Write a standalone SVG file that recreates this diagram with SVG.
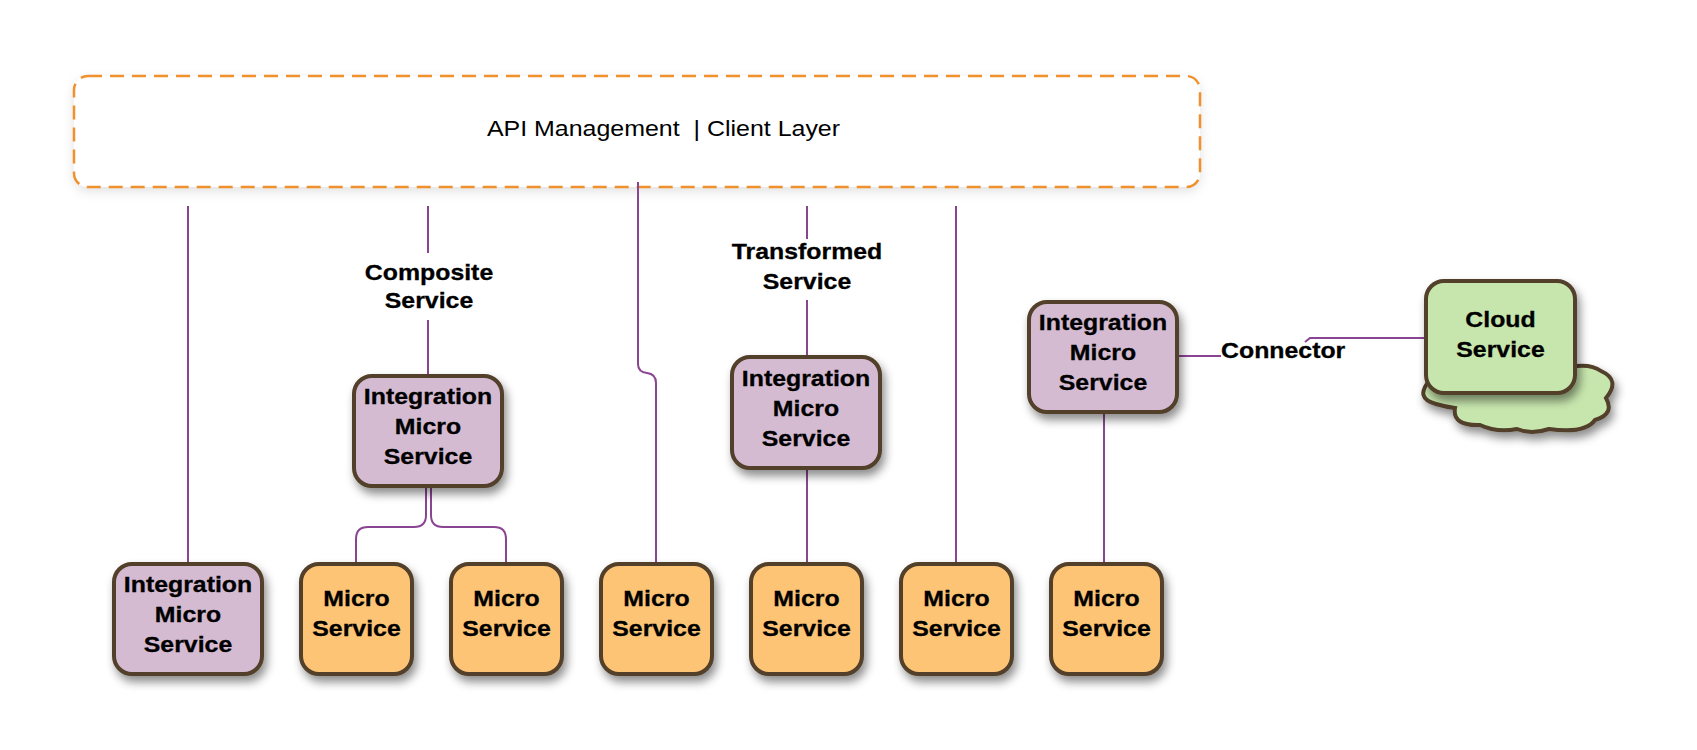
<svg xmlns="http://www.w3.org/2000/svg" width="1697" height="750" viewBox="0 0 1697 750">
<defs>
<style>
.int{fill:#d4bbd2;stroke:#523f2a;stroke-width:4}
.mic{fill:#fec474;stroke:#523f2a;stroke-width:4}
.cld{fill:#c7e6ad;stroke:#523f2a;stroke-width:4}
.lbl{font-family:"Liberation Sans",Arial,sans-serif;font-weight:bold;font-size:22px;fill:#000;stroke:#000;stroke-width:0.3;text-anchor:middle}
.con{fill:none;stroke:#8a4592;stroke-width:2}
</style>
<filter id="sh" x="-20%" y="-20%" width="150%" height="150%">
<feDropShadow dx="3" dy="6" stdDeviation="5" flood-color="#000" flood-opacity="0.45"/>
</filter>
<filter id="glow" x="-5%" y="-20%" width="110%" height="150%">
<feDropShadow dx="0" dy="4" stdDeviation="6" flood-color="#000" flood-opacity="0.12"/>
</filter>
</defs>
<rect width="1697" height="750" fill="#fff"/>

<g id="api">
<rect x="74" y="76" width="1126" height="111" rx="14" fill="#fff" filter="url(#glow)"/>
<rect x="74" y="76" width="1126" height="111" rx="14" fill="none" stroke="#f0912e" stroke-width="2.5" stroke-dasharray="14 8"/>
<text transform="translate(663.5 0) scale(1.085 1)" x="0" y="136" font-family="'Liberation Sans',Arial,sans-serif" font-size="23" text-anchor="middle" fill="#000" xml:space="preserve">API Management  | Client Layer</text>
</g>

<g id="connectors">
<path class="con" d="M188,206 V564"/>
<path class="con" d="M428,206 V253 M428,320 V376"/>
<path class="con" d="M426,486 V515 Q426,527 414,527 H368 Q356,527 356,539 V564"/>
<path class="con" d="M431,486 V515 Q431,527 443,527 H494 Q506,527 506,539 V564"/>
<path class="con" d="M638,182 V364 Q638,372 647,373 Q656,374 656,383 V564"/>
<path class="con" d="M807,206 V239 M807,300 V357 M807,468 V564"/>
<path class="con" d="M956,206 V564"/>
<path class="con" d="M1104,412 V564"/>
<path class="con" d="M1177,356 H1221"/>
<path class="con" d="M1305,342 L1310,338 H1426"/>
</g>

<g id="lbl-composite">
<text class="lbl" transform="translate(429 0) scale(1.13 1)"><tspan x="0" y="280">Composite</tspan><tspan x="0" y="308">Service</tspan></text>
</g>
<g id="lbl-transformed">
<text class="lbl" transform="translate(807 0) scale(1.13 1)"><tspan x="0" y="259">Transformed</tspan><tspan x="0" y="289">Service</tspan></text>
</g>
<g id="lbl-connector">
<text class="lbl" transform="translate(1221 0) scale(1.13 1)" style="text-anchor:start"><tspan x="0" y="358">Connector</tspan></text>
</g>

<g id="int-bottom">
<rect class="int" x="114" y="564" width="148" height="110" rx="18" filter="url(#sh)"/>
<text class="lbl" transform="translate(188 0) scale(1.13 1)"><tspan x="0" y="592.5">Integration</tspan><tspan x="0" y="622.5">Micro</tspan><tspan x="0" y="652.5">Service</tspan></text>
</g>

<g id="int-composite">
<rect class="int" x="354" y="376" width="148" height="110" rx="18" filter="url(#sh)"/>
<text class="lbl" transform="translate(428 0) scale(1.13 1)"><tspan x="0" y="404.5">Integration</tspan><tspan x="0" y="434.5">Micro</tspan><tspan x="0" y="464.5">Service</tspan></text>
</g>

<g id="int-transformed">
<rect class="int" x="732" y="357" width="148" height="111" rx="18" filter="url(#sh)"/>
<text class="lbl" transform="translate(806 0) scale(1.13 1)"><tspan x="0" y="386">Integration</tspan><tspan x="0" y="416">Micro</tspan><tspan x="0" y="446">Service</tspan></text>
</g>

<g id="int-right">
<rect class="int" x="1029" y="302" width="148" height="110" rx="18" filter="url(#sh)"/>
<text class="lbl" transform="translate(1103 0) scale(1.13 1)"><tspan x="0" y="330.5">Integration</tspan><tspan x="0" y="360.5">Micro</tspan><tspan x="0" y="390.5">Service</tspan></text>
</g>

<g id="micro1">
<rect class="mic" x="301" y="564" width="111" height="110" rx="18" filter="url(#sh)"/>
<text class="lbl" transform="translate(356.5 0) scale(1.13 1)"><tspan x="0" y="606.5">Micro</tspan><tspan x="0" y="636.5">Service</tspan></text>
</g>
<g id="micro2">
<rect class="mic" x="451" y="564" width="111" height="110" rx="18" filter="url(#sh)"/>
<text class="lbl" transform="translate(506.5 0) scale(1.13 1)"><tspan x="0" y="606.5">Micro</tspan><tspan x="0" y="636.5">Service</tspan></text>
</g>
<g id="micro3">
<rect class="mic" x="601" y="564" width="111" height="110" rx="18" filter="url(#sh)"/>
<text class="lbl" transform="translate(656.5 0) scale(1.13 1)"><tspan x="0" y="606.5">Micro</tspan><tspan x="0" y="636.5">Service</tspan></text>
</g>
<g id="micro4">
<rect class="mic" x="751" y="564" width="111" height="110" rx="18" filter="url(#sh)"/>
<text class="lbl" transform="translate(806.5 0) scale(1.13 1)"><tspan x="0" y="606.5">Micro</tspan><tspan x="0" y="636.5">Service</tspan></text>
</g>
<g id="micro5">
<rect class="mic" x="901" y="564" width="111" height="110" rx="18" filter="url(#sh)"/>
<text class="lbl" transform="translate(956.5 0) scale(1.13 1)"><tspan x="0" y="606.5">Micro</tspan><tspan x="0" y="636.5">Service</tspan></text>
</g>
<g id="micro6">
<rect class="mic" x="1051" y="564" width="111" height="110" rx="18" filter="url(#sh)"/>
<text class="lbl" transform="translate(1106.5 0) scale(1.13 1)"><tspan x="0" y="606.5">Micro</tspan><tspan x="0" y="636.5">Service</tspan></text>
</g>

<g id="cloud">
<path class="cld" filter="url(#sh)" d="M1445,372 L1430,380 Q1414,398 1436,404 Q1446,407 1455,408 Q1452,426 1480,425 Q1497,433 1517,429 Q1531,435 1549,429 Q1585,434 1595,420 Q1615,414 1606,398 Q1621,380 1601,371 Q1590,363 1570,367 Z"/>
<rect class="cld" x="1426" y="281" width="149" height="112" rx="18" filter="url(#sh)"/>
<text class="lbl" transform="translate(1500.5 0) scale(1.13 1)"><tspan x="0" y="327">Cloud</tspan><tspan x="0" y="357">Service</tspan></text>
</g>
</svg>
